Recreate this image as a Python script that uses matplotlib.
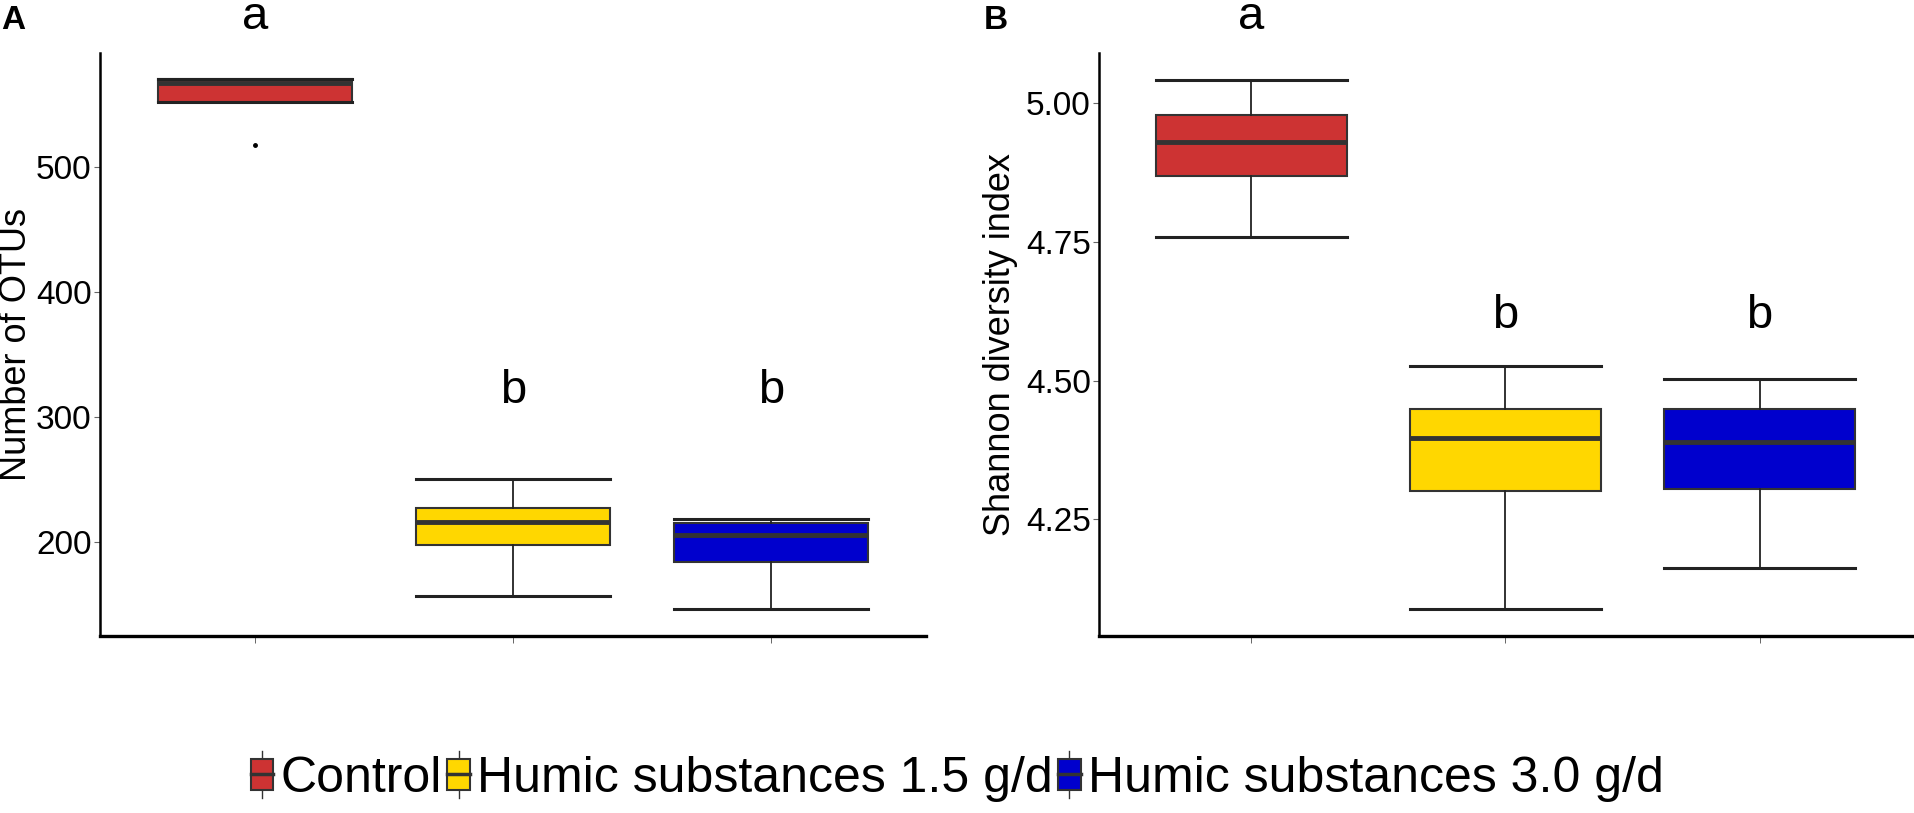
import matplotlib
matplotlib.use("Agg")
import matplotlib.pyplot as plt
from matplotlib.patches import Rectangle
from matplotlib.lines import Line2D
from matplotlib.legend_handler import HandlerBase

plt.rcParams["font.family"] = ["Liberation Sans", "DejaVu Sans"]

groups = ["Control", "Humic substances 1.5 g/d", "Humic substances 3.0 g/d"]
colors = ["#CD3333", "#FFD700", "#0000CD"]

# whislo, q1, median, q3, whishi
otu_stats = [
    [552.4, 552.4, 567.5, 570.2, 570.2],
    [156.8, 197.9, 216.0, 227.5, 250.4],
    [146.7, 184.0, 205.6, 215.5, 218.2],
]
otu_fliers = [[518.0], [], []]
otu_letters = ["a", "b", "b"]
otu_letter_y = [610.8, 311.6, 311.6]
otu_ticks = [200, 300, 400, 500]

shannon_stats = [
    [4.759, 4.868, 4.930, 4.978, 5.042],
    [4.088, 4.301, 4.397, 4.449, 4.527],
    [4.163, 4.304, 4.390, 4.449, 4.502],
]
shannon_fliers = [[], [], []]
shannon_letters = ["a", "b", "b"]
shannon_letter_y = [5.134, 4.595, 4.595]
shannon_ticks = [4.25, 4.50, 4.75, 5.00]

EDGE = "#333333"


def draw_panel(ax, stats, fliers, letters, letter_y, ticks, fmt, ylim):
    bstats = [dict(whislo=s[0], q1=s[1], med=s[2], q3=s[3], whishi=s[4], fliers=f)
              for s, f in zip(stats, fliers)]
    bp = ax.bxp(bstats, positions=[1, 2, 3], widths=0.75, capwidths=0.75,
                patch_artist=True, showfliers=True,
                boxprops=dict(edgecolor=EDGE, linewidth=1.5),
                medianprops=dict(color=EDGE, linewidth=3.5, solid_capstyle="butt"),
                whiskerprops=dict(color="#222222", linewidth=1.3),
                capprops=dict(color="#222222", linewidth=2.2),
                flierprops=dict(marker="o", markersize=2.5, markerfacecolor="black",
                                markeredgecolor="black", linestyle="none"))
    for patch, c in zip(bp["boxes"], colors):
        patch.set_facecolor(c)
    for i, (lt, ly) in enumerate(zip(letters, letter_y)):
        ax.text(i + 1, ly, lt, ha="center", va="baseline", fontsize=34, clip_on=False)
    ax.set_xlim(0.4, 3.6)
    ax.set_ylim(*ylim)
    ax.set_xticks([1, 2, 3])
    ax.set_xticklabels([])
    ax.set_yticks(ticks)
    ax.set_yticklabels([fmt.format(t) for t in ticks])
    ax.tick_params(axis="x", length=5, width=0.7, color="#666666")
    ax.tick_params(axis="y", length=4, width=0.8, color="#666666", pad=2,
                   labelsize=24, labelcolor="black")
    ax.spines["top"].set_visible(False)
    ax.spines["right"].set_visible(False)
    ax.spines["left"].set_linewidth(1.8)
    ax.spines["bottom"].set_linewidth(2.4)
    ax.set_facecolor("white")


class BoxKey(HandlerBase):
    def create_artists(self, legend, orig_handle, xdescent, ydescent, width, height,
                       fontsize, trans):
        c = orig_handle.get_facecolor()
        cx = width / 2 - xdescent
        w = Line2D([cx, cx], [-ydescent - 0.25 * height, -ydescent + 1.25 * height],
                   color=EDGE, linewidth=1.0, transform=trans)
        r = Rectangle((-xdescent, -ydescent), width, height, facecolor=c,
                      edgecolor=EDGE, linewidth=1.5, transform=trans)
        m = Line2D([-xdescent, -xdescent + width], [-ydescent + height / 2] * 2,
                   color=EDGE, linewidth=2.5, transform=trans)
        return [w, r, m]


fig = plt.figure(figsize=(19.15, 8.13), dpi=100)
axA = fig.add_axes([100 / 1915, 1 - 636 / 813, 826 / 1915, 583 / 813])
axB = fig.add_axes([1099 / 1915, 1 - 636 / 813, 813 / 1915, 583 / 813])

draw_panel(axA, otu_stats, otu_fliers, otu_letters, otu_letter_y, otu_ticks,
           "{:.0f}", (124.8, 591.4))
draw_panel(axB, shannon_stats, shannon_fliers, shannon_letters, shannon_letter_y,
           shannon_ticks, "{:.2f}", (4.040, 5.090))

fig.text(17 / 1915, 1 - 344 / 813, "Number of OTUs", rotation=90, ha="center",
         va="center", fontsize=26)
fig.text(1001 / 1915, 1 - 344 / 813, "Shannon diversity index", rotation=90,
         ha="center", va="center", fontsize=26)

fig.text(1 / 1915, 1 - 29 / 813, "A", fontsize=24, fontweight="bold", va="baseline")
fig.text(984 / 1915, 1 - 29 / 813, "B", fontsize=24, fontweight="bold", va="baseline")

handles = [Rectangle((0, 0), 1, 1, facecolor=c) for c in colors]
fig.legend(handles, groups, loc="center", bbox_to_anchor=(0.5, 1 - 779 / 813),
           ncol=3, frameon=False, fontsize=36, handlelength=0.45, handleheight=0.6,
           handletextpad=0.15, columnspacing=0.1, borderpad=0,
           handler_map={Rectangle: BoxKey()})

fig.savefig("out.png", dpi=100, facecolor="white")
